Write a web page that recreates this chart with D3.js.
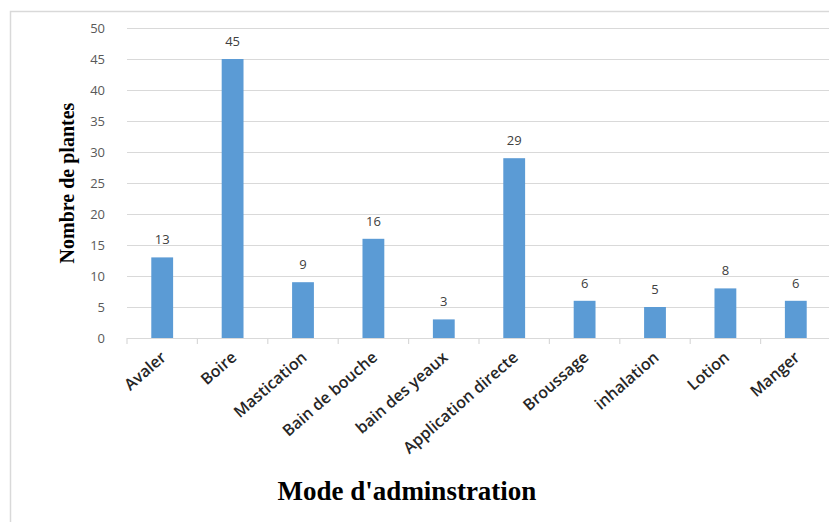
<!DOCTYPE html>
<html>
<head>
<meta charset="utf-8">
<script src="https://cdn.jsdelivr.net/npm/d3@7/dist/d3.min.js"></script>
<style>
  html, body { margin: 0; padding: 0; background: #fff; overflow: hidden; }
  svg { display: block; }
</style>
</head>
<body>
<svg id="chart" width="829" height="522"></svg>
<script>
// Modes d'administration des plantes et nombre de plantes par mode
const categories = ["Avaler", "Boire", "Mastication", "Bain de bouche", "bain des yeaux",
  "Application directe", "Broussage", "inhalation", "Lotion", "Manger"];
const values = [13, 45, 9, 16, 3, 29, 6, 5, 8, 6];
const yTicks = [0, 5, 10, 15, 20, 25, 30, 35, 40, 45, 50];
const yTitle = "Nombre de plantes";
const xTitle = "Mode d'adminstration";

const svg = d3.select("#chart");

// outer chart frame (runs past the right and bottom edges)
svg.append("rect")
  .attr("x", 10.5).attr("y", 11.5)
  .attr("width", 900).attr("height", 600)
  .attr("fill", "none").attr("stroke", "#d9d9d9").attr("stroke-width", 1.5);

const plot = { left: 127, top: 28, bottom: 338, bandW: 70.4 };
const x = d3.scaleBand()
  .domain(categories)
  .range([plot.left, plot.left + plot.bandW * categories.length])
  .paddingInner(0.69).paddingOuter(0.345);
const y = d3.scaleLinear().domain([0, 50]).range([plot.bottom, plot.top]);

// horizontal gridlines
svg.append("g")
  .selectAll("line").data(yTicks.slice(1)).join("line")
  .attr("x1", plot.left).attr("x2", 829)
  .attr("y1", d => Math.round(y(d)) + 0.5).attr("y2", d => Math.round(y(d)) + 0.5)
  .attr("stroke", "#d9d9d9").attr("stroke-width", 1.2);

// y axis labels
const yAxis = d3.axisLeft(y).tickValues(yTicks).tickSize(0).tickPadding(22);
svg.append("g").attr("transform", `translate(${plot.left},0)`).call(yAxis)
  .call(g => g.select(".domain").remove())
  .selectAll("text")
  .attr("font-family", "'Open Sans', sans-serif").attr("font-size", 13)
  .attr("fill", "#595959");

// bars
svg.append("g").selectAll("rect").data(values).join("rect")
  .attr("x", (d, i) => x(categories[i]))
  .attr("width", x.bandwidth())
  .attr("y", d => y(d))
  .attr("height", d => y(0) - y(d))
  .attr("fill", "#5b9bd5");

// value labels
svg.append("g").selectAll("text").data(values).join("text")
  .attr("x", (d, i) => x(categories[i]) + x.bandwidth() / 2)
  .attr("y", d => y(d) - 13)
  .attr("text-anchor", "middle")
  .attr("font-family", "'Open Sans', sans-serif").attr("font-size", 13)
  .attr("fill", "#404040")
  .text(d => d);

// x axis with category boundary ticks
const xLine = svg.append("g");
xLine.append("line")
  .attr("x1", plot.left).attr("x2", 829)
  .attr("y1", plot.bottom + 0.5).attr("y2", plot.bottom + 0.5)
  .attr("stroke", "#d9d9d9").attr("stroke-width", 1.2);
xLine.selectAll("line.tick").data(d3.range(categories.length + 1)).join("line")
  .attr("class", "tick")
  .attr("x1", i => plot.left + i * plot.bandW).attr("x2", i => plot.left + i * plot.bandW)
  .attr("y1", plot.bottom).attr("y2", plot.bottom + 6)
  .attr("stroke", "#d9d9d9").attr("stroke-width", 1.2);

// rotated category labels
svg.append("g").selectAll("text").data(categories).join("text")
  .attr("transform", d => `translate(${x(d) + x.bandwidth() / 2 + 5},${plot.bottom + 21}) rotate(-41)`)
  .attr("text-anchor", "end")
  .attr("font-family", "'Open Sans', sans-serif").attr("font-size", 16)
  .attr("font-weight", 600)
  .attr("fill", "#262626")
  .text(d => d);

// axis titles
svg.append("text")
  .attr("transform", "translate(74,183) rotate(-90)")
  .attr("text-anchor", "middle")
  .attr("font-family", "'Liberation Serif', serif").attr("font-weight", "bold")
  .attr("font-size", 20).attr("fill", "#000")
  .text(yTitle);

svg.append("text")
  .attr("x", 407).attr("y", 500)
  .attr("text-anchor", "middle")
  .attr("font-family", "'Liberation Serif', serif").attr("font-weight", "bold")
  .attr("font-size", 27).attr("fill", "#000")
  .text(xTitle);
</script>
</body>
</html>
